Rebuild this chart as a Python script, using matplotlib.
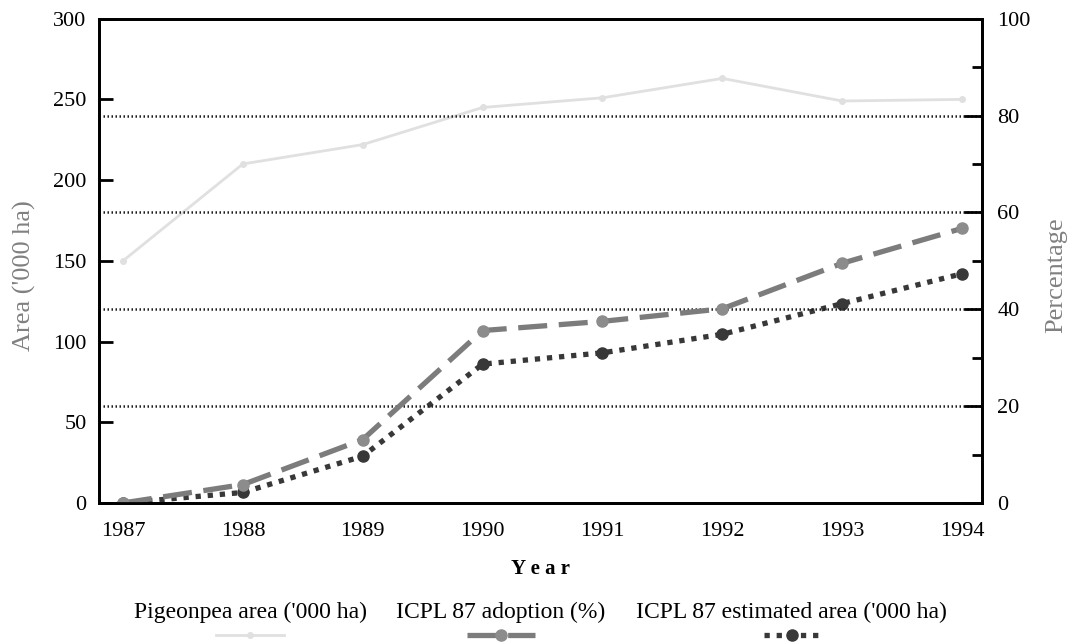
import matplotlib
matplotlib.use("Agg")
import matplotlib.pyplot as plt
from matplotlib.lines import Line2D
from matplotlib.ticker import MultipleLocator

plt.rcParams['font.family'] = ['Liberation Serif', 'DejaVu Serif']

years = [1987, 1988, 1989, 1990, 1991, 1992, 1993, 1994]
pigeonpea_area = [150, 210, 222, 245, 251, 263, 249, 250]
adoption_pct = [0, 3.8, 13.1, 35.6, 37.5, 40.1, 49.5, 56.7]
estimated_area = [0, 6.5, 29, 86, 93, 104.5, 123.5, 142]

labels = ["Pigeonpea area ('000 ha)", "ICPL 87 adoption (%)",
          "ICPL 87 estimated area ('000 ha)"]

style_area = dict(color='#e0e0e0', lw=2.0, marker='o', ms=4,
                  mfc='#e0e0e0', mec='#e0e0e0')
style_adopt = dict(color='#7c7c7c', lw=3.8, ls=(0, (5.5, 2.2)),
                   marker='o', ms=8, mfc='#8c8c8c', mec='#8c8c8c')
style_est = dict(color='#383838', lw=3.8, ls=(0, (1.0, 1.3)),
                 marker='o', ms=8, mfc='#383838', mec='#383838')

fig = plt.figure(figsize=(10.73, 6.44), dpi=100)
ax = fig.add_axes([0.0923, 0.219, 0.823, 0.752])
ax2 = ax.twinx()

ax.plot(years, pigeonpea_area, **style_area)
ax.plot(years, estimated_area, **style_est)
ax2.plot(years, adoption_pct, **style_adopt)

ax.set_xlim(1986.8, 1994.167)
ax.set_ylim(0, 300)
ax2.set_ylim(0, 100)
ax.set_xticks(years)
ax.set_yticks(range(0, 301, 50))
ax2.yaxis.set_major_locator(MultipleLocator(20))
ax2.yaxis.set_minor_locator(MultipleLocator(10))

for g in [20, 40, 60, 80]:
    ax2.axhline(g, color='#1e1e1e', lw=1.8, ls=(0, (0.6, 1.0)), zorder=0)

ax.tick_params(axis='x', length=0, pad=14, labelsize=16)
ax.tick_params(axis='y', direction='in', length=10, width=2, pad=9,
               labelsize=16)
ax2.tick_params(axis='y', which='major', direction='in', length=13, width=2,
                pad=11, labelsize=16)
ax2.tick_params(axis='y', which='minor', direction='in', length=7, width=2)

for a in (ax, ax2):
    for s in a.spines.values():
        s.set_linewidth(2)

ax.set_ylabel("Area ('000 ha)", fontsize=19, color='#808080')
ax.yaxis.set_label_coords(-0.071, 0.47)
ax2.set_ylabel("Percentage", fontsize=19, color='#808080')
ax2.yaxis.set_label_coords(1.071, 0.47)
ax.set_xlabel("Y e a r", fontsize=15, fontweight='bold')
ax.xaxis.set_label_coords(0.5, -0.116)

# legend: text on top, line sample under it
centers = [0.233, 0.467, 0.738]
styles = [style_area, style_adopt, style_est]
for cx, lab, st in zip(centers, labels, styles):
    fig.text(cx, 0.049, lab, ha='center', va='center', fontsize=17)
    half = 0.032 if st is not style_est else 0.026
    ln = Line2D([cx - half, cx, cx + half], [0.014, 0.014, 0.014],
                transform=fig.transFigure, markevery=[1], **st)
    fig.add_artist(ln)

fig.savefig("out.png", dpi=100)
